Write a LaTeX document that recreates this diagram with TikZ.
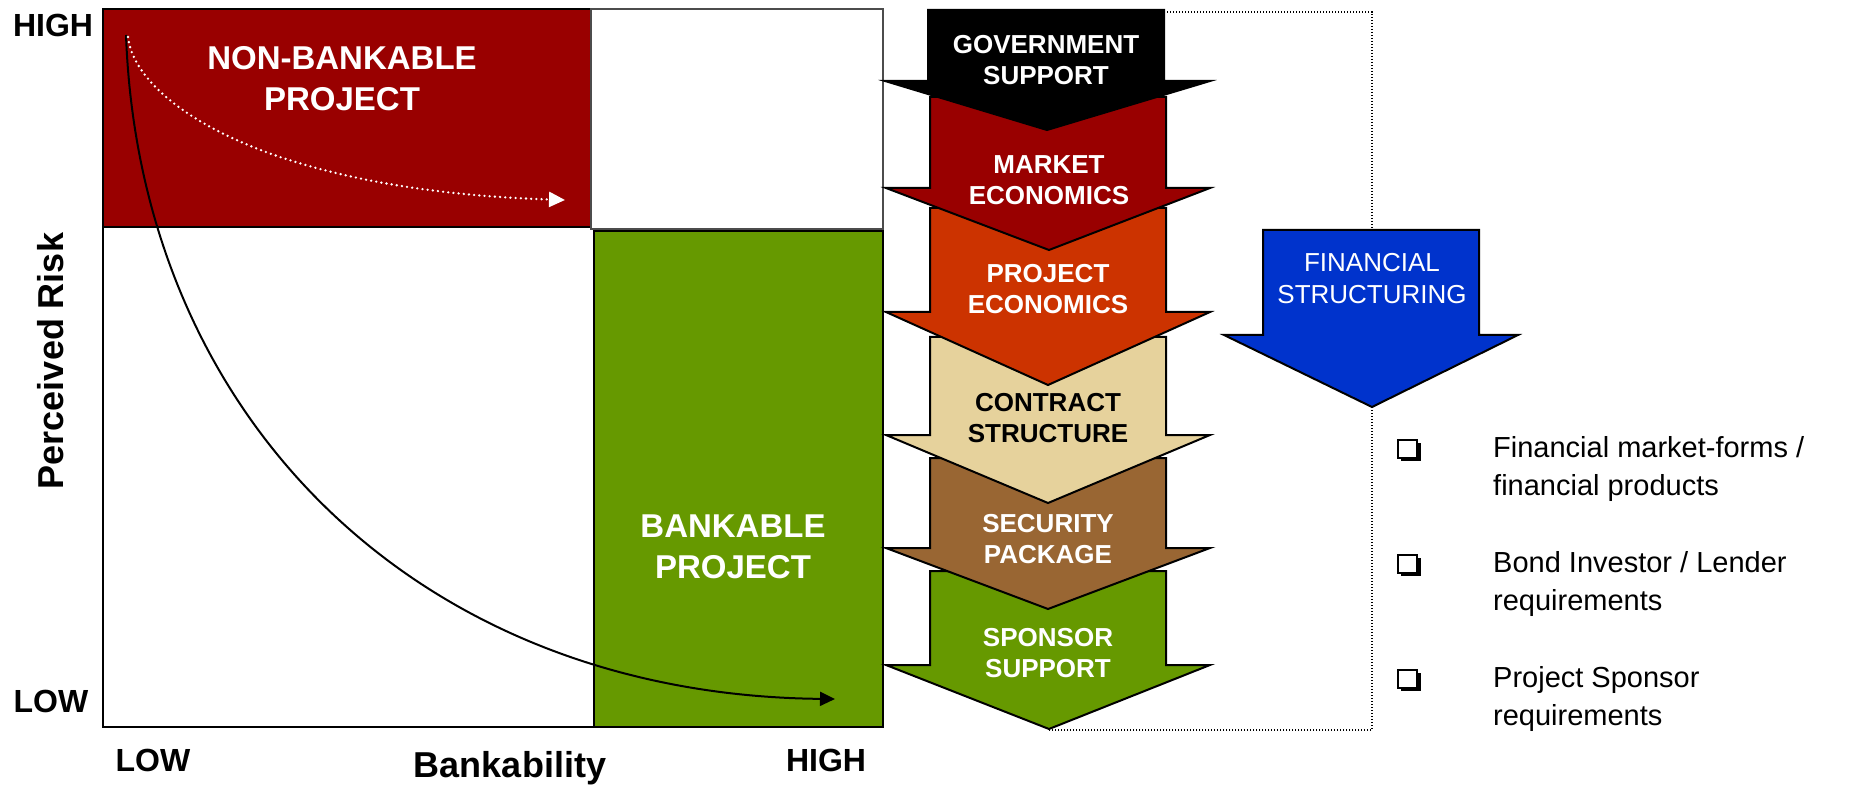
\documentclass[tikz,border=0pt]{standalone}
\usepackage{fontspec}
\setmainfont{Liberation Sans}
\usetikzlibrary{arrows.meta}
\definecolor{cRed}{HTML}{990000}
\definecolor{cOrange}{HTML}{CC3300}
\definecolor{cBeige}{HTML}{E6D29C}
\definecolor{cBrown}{HTML}{996633}
\definecolor{cGreen}{HTML}{669900}
\definecolor{cBlue}{HTML}{0033CC}
\newcommand\mybullet[2]{%
  \fill[black] (1401,#1+3) rectangle (1421,#1+21);
  \filldraw[fill=white, draw=black, line width=1.4pt] (1398,#1) rectangle (1417,#1+18);
  \coordinate (#2) at (1409,#1+9);}
\begin{document}
\begin{tikzpicture}[x=1pt,y=-1pt,
  chevbox/.style={draw=black, line width=2pt, line join=miter},
  chevtext/.style={font=\bfseries\fontsize{26}{31}\selectfont, align=center, text=white, inner sep=0pt},
  axislabel/.style={font=\bfseries\fontsize{32}{36}\selectfont, inner sep=0pt, anchor=base},
  titlelabel/.style={font=\bfseries\fontsize{36}{40}\selectfont, inner sep=0pt},
  boxlabel/.style={font=\bfseries\fontsize{33}{41}\selectfont, align=center, text=white, inner sep=0pt},
  bullettext/.style={font=\fontsize{29}{38}\selectfont, align=left, anchor=west, inner sep=0pt},
  dotline/.style={draw=black, line width=1.3pt, dash pattern=on 1.2pt off 1.8pt},
]
\useasboundingbox (0,0) rectangle (1856,786);

% outer frame
\draw[line width=1.6pt] (103,9) rectangle (883,727);
\draw[line width=2.4pt] (103,727) -- (883,727);
% quadrants
\filldraw[fill=cRed, draw=black, line width=2.6pt] (103,9) rectangle (591,227);
\draw[line width=1.2pt, draw=black!70] (591,9) rectangle (883,229);
\filldraw[fill=cGreen, draw=black, line width=2.8pt] (594,231) rectangle (883,727);

% curves
\coordinate (c0) at (126,35);
\coordinate (c1) at (835,699);
\draw[line width=2pt, -{Triangle[length=15pt,width=14pt]}] (c0) .. controls (140,420) and (420,695) .. (c1);
\coordinate (d0) at (128,37);
\coordinate (d1) at (565,200);
\draw[white, line width=2.6pt, line cap=round, dash pattern=on 0pt off 5.2pt,
  -{Triangle[length=16pt,width=15pt,fill=white]}] (d0) .. controls (135,100) and (260,190) .. (d1);

% quadrant labels
\node[boxlabel] (nonbank) at (342,79) {NON-BANKABLE\\PROJECT};
\node[boxlabel] (bank) at (733,547) {BANKABLE\\PROJECT};

% axis labels
\node[axislabel] (yhigh) at (53,37) {HIGH};
\node[axislabel] (ylow) at (51,712) {LOW};
\node[axislabel] (xlow) at (153,771) {LOW};
\node[titlelabel, anchor=base] (xtitle) at (510,777) {Bankability};
\node[axislabel] (xhigh) at (826,771) {HIGH};
\node[titlelabel, rotate=90] (ytitle) at (51,361) {Perceived Risk};

% chevrons (drawn bottom-up so upper heads overlap)
\filldraw[chevbox, fill=cGreen] (930,571) -- (1166,571) -- (1166,665) -- (1210,665) -- (1049,729) -- (886,665) -- (930,665) -- cycle;
\filldraw[chevbox, fill=cBrown] (930,458) -- (1166,458) -- (1166,548) -- (1210,548) -- (1048,609) -- (886,548) -- (930,548) -- cycle;
\filldraw[chevbox, fill=cBeige] (930,337) -- (1166,337) -- (1166,435) -- (1210,435) -- (1048,503) -- (886,435) -- (930,435) -- cycle;
\filldraw[chevbox, fill=cOrange] (930,208) -- (1166,208) -- (1166,312) -- (1210,312) -- (1048,385) -- (886,312) -- (930,312) -- cycle;
\filldraw[chevbox, fill=cRed] (930,97) -- (1166,97) -- (1166,188) -- (1210,188) -- (1049,250) -- (886,188) -- (930,188) -- cycle;
\filldraw[chevbox, fill=black] (928,10) -- (1164,10) -- (1164,81) -- (1210,81) -- (1047,130) -- (885,81) -- (928,81) -- cycle;

\node[chevtext] (gov) at (1046,60) {GOVERNMENT\\SUPPORT};
\node[chevtext] (market) at (1049,180) {MARKET\\ECONOMICS};
\node[chevtext] (project) at (1048,289) {PROJECT\\ECONOMICS};
\node[chevtext, text=black] (contract) at (1048,418) {CONTRACT\\STRUCTURE};
\node[chevtext] (security) at (1048,539) {SECURITY\\PACKAGE};
\node[chevtext] (sponsor) at (1048,653) {SPONSOR\\SUPPORT};

% dotted bracket
\coordinate (dA) at (1164,12);
\coordinate (dB) at (1372,12);
\coordinate (dC) at (1372,230);
\coordinate (dD) at (1372,407);
\coordinate (dE) at (1372,730);
\coordinate (dF) at (1049,730);
\draw[dotline] (dA) -- (dB) -- (dC);
\draw[dotline] (dD) -- (dE) -- (dF);

% financial structuring arrow
\filldraw[chevbox, fill=cBlue] (1263,230) -- (1479,230) -- (1479,335) -- (1518,335) -- (1372,407) -- (1224,335) -- (1263,335) -- cycle;
\node[font=\fontsize{26}{32}\selectfont, align=center, text=white, inner sep=0pt] (finstruct) at (1372,279) {FINANCIAL\\STRUCTURING};

% bullets
\mybullet{440}{b1}
\mybullet{555}{b2}
\mybullet{670}{b3}
\node[bullettext] (t1) at (1493,469) {Financial market-forms /\\financial products};
\node[bullettext] (t2) at (1493,584) {Bond Investor / Lender\\requirements};
\node[bullettext] (t3) at (1493,699) {Project Sponsor\\requirements};
\end{tikzpicture}
\end{document}
